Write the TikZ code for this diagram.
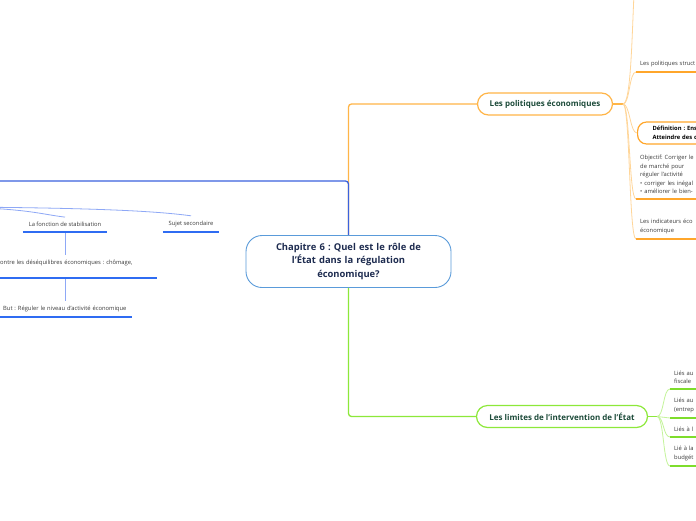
\documentclass[tikz,border=0pt]{standalone}
\usepackage{fontspec}
\setmainfont{Open Sans}
\usepackage{xcolor}
\usetikzlibrary{positioning}
\frenchspacing

\definecolor{ctrblue}{HTML}{5A9BDA}
\definecolor{ctrtxt}{HTML}{1E2C50}
\definecolor{brtxt}{HTML}{1D4B3A}
\definecolor{leaftxt}{HTML}{3A3A3A}
\definecolor{bluemain}{HTML}{3B62DE}
\definecolor{bluethin}{HTML}{8EA8F6}
\definecolor{blueul}{HTML}{2F6CF2}
\definecolor{orgmain}{HTML}{FFB547}
\definecolor{orgthin}{HTML}{FFD699}
\definecolor{orgul}{HTML}{FFA62B}
\definecolor{grnmain}{HTML}{8DE83A}
\definecolor{grnthin}{HTML}{C4F49A}
\definecolor{grnul}{HTML}{7EDD2C}

\begin{document}
\begin{tikzpicture}[
  x=1pt, y=-1pt,
  every node/.style={font=\fontsize{5.8}{8.5}\selectfont, text=leaftxt},
  topic/.style  ={draw=ctrblue, line width=0.9pt, rounded corners=16pt, fill=white,
                  minimum width=205pt, minimum height=52pt, text width=190pt, align=center,
                  font=\fontsize{9.4}{13.5}\selectfont\bfseries, text=ctrtxt},
  obranch/.style={draw=orgmain, line width=1.2pt, rounded corners=11pt, fill=white,
                  minimum width=135pt, minimum height=22pt,
                  font=\fontsize{8}{9}\selectfont\bfseries, text=brtxt},
  gbranch/.style={obranch, draw=grnmain, minimum width=171pt},
  leaf/.style   ={inner xsep=4pt, inner ysep=5pt, align=left},
  odef/.style   ={draw=orgul, line width=1.2pt, rounded corners=9pt, fill=white,
                  minimum height=22pt, inner xsep=15pt, text width=60pt, align=left,
                  font=\fontsize{5.8}{9}\selectfont\bfseries, text=black},
  bm/.style  ={draw=bluemain, line width=1.3pt, rounded corners=3pt},
  om/.style  ={draw=orgmain,  line width=1.3pt, rounded corners=3pt},
  gm/.style  ={draw=grnmain,  line width=1.3pt, rounded corners=3pt},
  bt/.style  ={draw=bluethin, line width=0.8pt},
  ot/.style  ={draw=orgthin,  line width=0.8pt},
  gt/.style  ={draw=grnthin,  line width=0.8pt},
  bul/.style ={draw=blueul, line width=1.6pt},
  oul/.style ={draw=orgul,  line width=1.6pt},
  gul/.style ={draw=grnul,  line width=1.6pt},
]
\useasboundingbox[fill=white] (0,0) rectangle (696,520);

%% ─── Central topic and main branches ────────────────────────────────────────
\node[topic]   (main) at (348.5,261.5) {Chapitre 6 : Quel est le rôle de\\l’État dans la régulation\\économique?};
\node[obranch] (pol)  at (545,104)     {Les politiques économiques};
\node[gbranch] (lim)  at (562,416.5)   {Les limites de l’intervention de l’État};

\coordinate (leftend) at (-5,181);     % blue branch leaves the page
\coordinate (lefthub) at (-40,207);    % thin blue branches come from off-page
\coordinate (polhub)  at (623,104);
\coordinate (limhub)  at (657,416.5);
\coordinate (otop)    at (634,-6);

\draw[om] (main.north) |- (pol.west);
\draw[gm] (main.south) |- (lim.west);
\draw[bm] (main.north) |- (leftend);

%% ─── Left side (blue) ───────────────────────────────────────────────────────
\node[leaf, anchor=south, minimum width=84pt] (stab)  at (65,232)  {La fonction de stabilisation};
\node[leaf, anchor=south, minimum width=56pt] (sujet) at (191,232) {Sujet secondaire};
\node[leaf, anchor=south west, text width=153pt, text depth=8pt] (desq) at (-4,278)
  {ontre les déséquilibres économiques : chômage,};
\node[leaf, anchor=south west, text width=125pt] (but) at (-1,317)
  {But : Réguler le niveau d’activité économique};

\draw[bt] (lefthub) .. controls +(70,2) and +(-25,-3) .. (stab.north);
\draw[bt] (lefthub) .. controls +(150,1) and +(-30,-4) .. (sujet.north);
\draw[bt] (stab.south) -- (desq.north -| stab.south);
\draw[bt] (desq.south -| stab.south) -- (but.north -| stab.south);

\foreach \n in {stab, sujet, desq, but} { \draw[bul] (\n.south west) -- (\n.south east); }

%% ─── Right side, economic policies (orange) ─────────────────────────────────
\node[leaf, anchor=south west, text width=60pt] (struct) at (636,72)  {Les politiques struct};
\node[odef, anchor=west]                        (defn)   at (637,133) {Définition : Ens\\Atteindre des c};
\node[leaf, anchor=south west, text width=60pt] (obj)    at (636,199)
  {Objectif: Corriger le\\de marché  pour\\réguler l’activité\\• corriger les inégal\\• améliorer le bien-};
\node[leaf, anchor=south west, text width=60pt] (indic)  at (636,239) {Les indicateurs éco\\économique};

\draw[om] (pol.east) -- (polhub);
\draw[ot] (polhub) .. controls +(8,0) and +(-2,40) .. (otop);
\foreach \n in {struct, obj, indic} {
  \draw[ot] (polhub) .. controls +(7,0) and +(-7,0) .. (\n.south west);
}
\draw[ot] (polhub) .. controls +(7,0) and +(-7,0) .. (defn.west);
\foreach \n in {struct, obj, indic} { \draw[oul] (\n.south west) -- (\n.south east); }

%% ─── Right side, limits of intervention (green) ─────────────────────────────
\node[leaf, anchor=south west, text width=40pt] (lfis) at (670,389) {Liés au\\fiscale};
\node[leaf, anchor=south west, text width=40pt] (lent) at (670,418) {Liés au\\(entrep};
\node[leaf, anchor=south west, text width=40pt] (lla)  at (670,437) {Liés à l};
\node[leaf, anchor=south west, text width=40pt] (lbud) at (670,466) {Lié à  la\\budgét};

\draw[gm] (lim.east) -- (limhub);
\foreach \n in {lfis, lent, lla, lbud} {
  \draw[gt]  (limhub) .. controls +(7,0) and +(-7,0) .. (\n.south west);
  \draw[gul] (\n.south west) -- (\n.south east);
}

\end{tikzpicture}
\end{document}
